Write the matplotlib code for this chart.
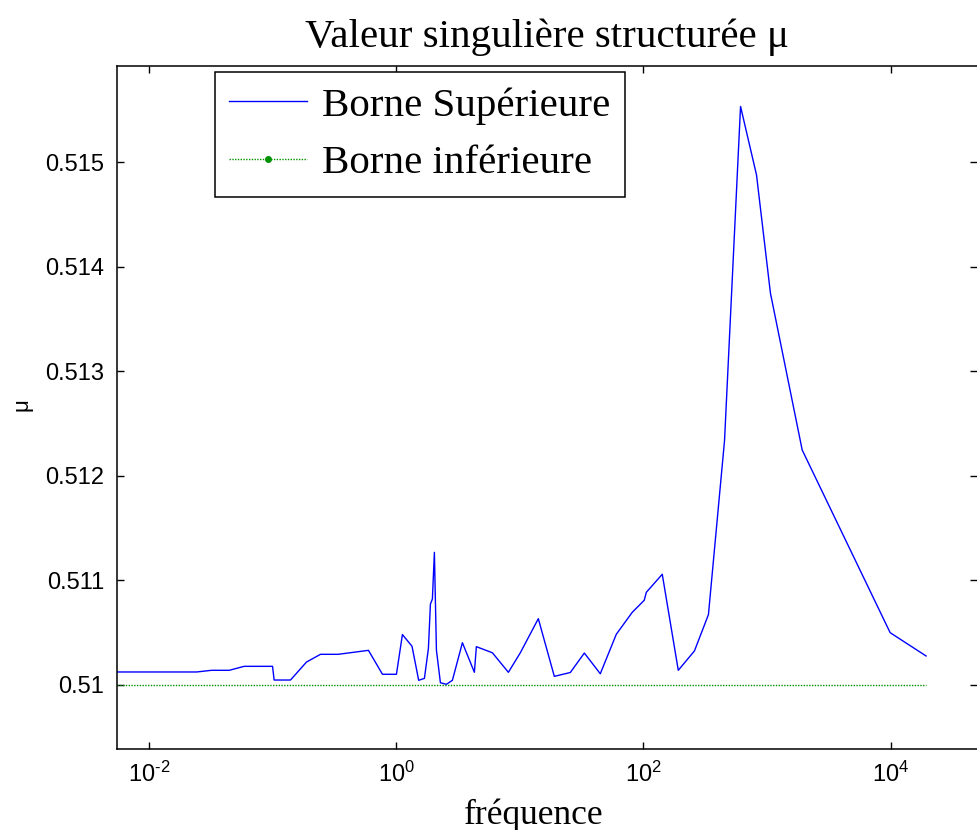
import matplotlib
matplotlib.use("Agg")
import matplotlib.pyplot as plt
from matplotlib.lines import Line2D

# frequency points and upper bound of mu
freq = [0.00543, 0.0241, 0.0319, 0.0443, 0.0585, 0.0993, 0.1023, 0.1388,
        0.187, 0.2427, 0.3374, 0.5935, 0.7706, 1.0, 1.118, 1.337, 1.514,
        1.685, 1.815, 1.884, 1.955, 2.029, 2.107, 2.27, 2.538, 2.838, 3.42,
        4.276, 4.437, 5.98, 8.06, 10.07, 14.08, 18.98, 25.57, 33.2, 44.7,
        60.2, 81.1, 101.4, 105.4, 141.9, 191.3, 258.7, 335.6, 453.0, 610.6,
        822.5, 1066.0, 1927.0, 9930.0, 19400.0]
mu_upper = [0.510120, 0.510120, 0.510136, 0.510136, 0.510174, 0.510174,
            0.510043, 0.510043, 0.510215, 0.510289, 0.510289, 0.510327,
            0.510098, 0.510098, 0.510478, 0.510366, 0.510040, 0.510059,
            0.510346, 0.510770, 0.510818, 0.511265, 0.510330, 0.510017,
            0.510002, 0.510040, 0.510400, 0.510117, 0.510362, 0.510304,
            0.510117, 0.510304, 0.510630, 0.510078, 0.510115, 0.510301,
            0.510103, 0.510480, 0.510691, 0.510806, 0.510882, 0.511055,
            0.510136, 0.510322, 0.510669, 0.512334, 0.515532, 0.514876,
            0.513745, 0.512244, 0.510496, 0.510273]
mu_lower = [0.51] * len(freq)

y_ticks = [0.51, 0.511, 0.512, 0.513, 0.514, 0.515]
y_tick_labels = ["0.51", "0.511", "0.512", "0.513", "0.514", "0.515"]
x_ticks = [1e-2, 1e0, 1e2, 1e4]
x_tick_labels = [r"$10^{\text{-2}}$", r"$10^{0}$", r"$10^{2}$", r"$10^{4}$"]

plt.rcParams["mathtext.fontset"] = "custom"
plt.rcParams["mathtext.rm"] = "Liberation Sans"
plt.rcParams["mathtext.it"] = "Liberation Sans"
plt.rcParams["mathtext.default"] = "regular"

SERIF = ["Liberation Serif", "DejaVu Serif"]
SANS = ["Liberation Sans", "DejaVu Sans"]
GREEN = "#009100"

fig = plt.figure(figsize=(9.77, 8.30), dpi=100)
ax = fig.add_axes([0.1194, 0.0976, 0.8806, 0.8229])

ax.plot(freq, mu_upper, color="#0000ff", lw=1.0)
ax.plot(freq, mu_lower, color=GREEN, lw=1.0, ls=(0, (1, 1)))

ax.set_xscale("log")
ax.set_xlim(10 ** -2.265, 10 ** 4.70)
ax.set_ylim(0.509383, 0.515919)

ax.set_xticks(x_ticks)
ax.set_xticklabels(x_tick_labels, fontsize=17, family=SANS)
ax.xaxis.set_minor_locator(matplotlib.ticker.NullLocator())
ax.set_yticks(y_ticks)
ax.set_yticklabels(y_tick_labels, fontsize=17, family=SANS)
ax.tick_params(direction="in", length=5, width=1, top=True, right=True)
ax.tick_params(axis="x", pad=9)
ax.tick_params(axis="y", pad=9)
for side in ["left", "bottom", "top"]:
    ax.spines[side].set_linewidth(1.1)
ax.spines["right"].set_visible(False)

ax.set_title("Valeur singulière structurée μ", family=SERIF, fontsize=29.5, pad=14)
ax.set_xlabel("fréquence", family=SERIF, fontsize=25.5)
ax.xaxis.set_label_coords(0.485, -0.072)
ax.set_ylabel("μ", family=SANS, fontsize=16)
ax.yaxis.set_label_coords(-0.098, 0.504)

handles = [
    Line2D([], [], color="#0000ff", lw=1.0),
    Line2D([], [], color=GREEN, lw=1.0, ls=(0, (1, 1)), marker=".", markersize=8),
]
leg = ax.legend(handles, ["Borne Supérieure", "Borne inférieure"],
                loc="upper left", bbox_to_anchor=(0.114, 0.991), borderaxespad=0,
                prop={"family": SERIF, "size": 29.5}, fancybox=False,
                edgecolor="black", framealpha=1, handlelength=1.9,
                handletextpad=0.37, borderpad=0.36, labelspacing=0.48)
leg.get_frame().set_linewidth(1.1)

fig.savefig("out.png", dpi=100)
